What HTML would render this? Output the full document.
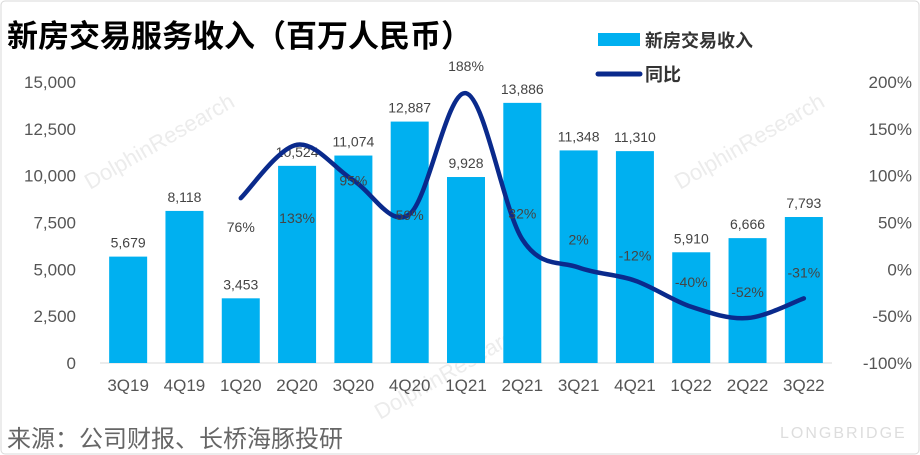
<!DOCTYPE html>
<html><head><meta charset="utf-8"><style>
body{margin:0;background:#fff;}
#wrap{position:relative;width:920px;height:455px;overflow:hidden;font-family:"Liberation Sans","Noto Sans CJK SC",sans-serif;}
</style></head><body>
<div id="wrap">
<svg id="chart" width="920" height="455" xmlns="http://www.w3.org/2000/svg">
<rect x="1" y="1" width="918" height="453" rx="4" fill="#fff" stroke="#d9d9d9"/>
<text x="7" y="47" font-size="31" font-weight="bold" fill="#000" font-family="Liberation Sans,Noto Sans CJK SC,sans-serif">新房交易服务收入（百万人民币）</text>
<rect x="598" y="33" width="42" height="13" fill="#00b0f0"/>
<text x="645" y="47" font-size="18" fill="#333" font-weight="bold" font-family="Liberation Sans,Noto Sans CJK SC,sans-serif">新房交易收入</text>
<line x1="598" y1="74" x2="640" y2="74" stroke="#0a2a8c" stroke-width="5" stroke-linecap="round"/>
<text x="645" y="81" font-size="18" fill="#333" font-weight="bold" font-family="Liberation Sans,Noto Sans CJK SC,sans-serif">同比</text>
<text x="7" y="447" font-size="24" fill="#666" font-family="Liberation Sans,Noto Sans CJK SC,sans-serif">来源：公司财报、长桥海豚投研</text>
<text x="780" y="438" font-size="16" fill="#ddd" letter-spacing="2">LONGBRIDGE</text>
<g id="wm" fill="#ececec" font-size="22">
<text transform="translate(90,190) rotate(-30)">DolphinResearch</text>
<text transform="translate(680,190) rotate(-30)">DolphinResearch</text>
<text transform="translate(380,420) rotate(-30)">DolphinResearch</text>
</g>
<g id="plot"></g>
</svg>
</div>
<script>
const categories=["3Q19","4Q19","1Q20","2Q20","3Q20","4Q20","1Q21","2Q21","3Q21","4Q21","1Q22","2Q22","3Q22"];
const revenue=[5679,8118,3453,10524,11074,12887,9928,13886,11348,11310,5910,6666,7793];
const yoy=[null,null,76,133,95,59,188,32,2,-12,-40,-52,-31];
const leftTicks=[0,2500,5000,7500,10000,12500,15000];
const rightTicks=[-100,-50,0,50,100,150,200];
const yoyLabelDy=[0,0,29,73,0,1,-27,-26,-28,-25,-25,-26,-26];

const NS="http://www.w3.org/2000/svg";
const plot=document.getElementById('plot');
const x0=100,x1=832,yTop=82,yBot=363;
const step=(x1-x0)/categories.length;
const xC=i=>x0+step*(i+0.5);
const yL=v=>yBot-(v/15000)*(yBot-yTop);
const yR=v=>yBot-((v+100)/300)*(yBot-yTop);
function mk(t,a,txt){const e=document.createElementNS(NS,t);for(const k in a)e.setAttribute(k,a[k]);if(txt!==undefined)e.textContent=txt;plot.appendChild(e);return e;}
const axis=mk('line',{x1:x0,x2:x1,y1:yBot,y2:yBot,stroke:'#d9d9d9','stroke-width':1});


leftTicks.forEach(v=>{const t=mk('text',{x:76,y:yL(v)+6,'text-anchor':'end','font-size':17,fill:'#555'},v.toLocaleString('en-US'));

});
rightTicks.forEach(v=>{const t=mk('text',{x:912,y:yR(v)+6,'text-anchor':'end','font-size':17,fill:'#555'},v+'%');

});
categories.forEach((c,i)=>{
const b=mk('rect',{x:xC(i)-19,y:yL(revenue[i]),width:38,height:yBot-yL(revenue[i]),fill:'#00b0f0'});


const l=mk('text',{x:xC(i),y:yL(revenue[i])-9,'text-anchor':'middle','font-size':14,fill:'#444'},revenue[i].toLocaleString('en-US'));


const xl=mk('text',{x:xC(i),y:391,'text-anchor':'middle','font-size':17,fill:'#555'},c);


});
const pts=[];yoy.forEach((v,i)=>{if(v!==null)pts.push([xC(i),yR(v),i,v]);});
let d='M'+pts[0][0]+','+pts[0][1];
for(let k=0;k<pts.length-1;k++){const p0=pts[Math.max(0,k-1)],p1=pts[k],p2=pts[k+1],p3=pts[Math.min(pts.length-1,k+2)];const s=6;
d+=` C${p1[0]+(p2[0]-p0[0])/s},${p1[1]+(p2[1]-p0[1])/s} ${p2[0]-(p3[0]-p1[0])/s},${p2[1]-(p3[1]-p1[1])/s} ${p2[0]},${p2[1]}`;}
const line=mk('path',{d:d,fill:'none',stroke:'#0a2a8c','stroke-width':4.5,'stroke-linecap':'round'});


pts.forEach(p=>{const t=mk('text',{x:p[0],y:p[1]+yoyLabelDy[p[2]]+5,'text-anchor':'middle','font-size':14,fill:'#444'},p[3]+'%');

});
</script>
</body></html>
